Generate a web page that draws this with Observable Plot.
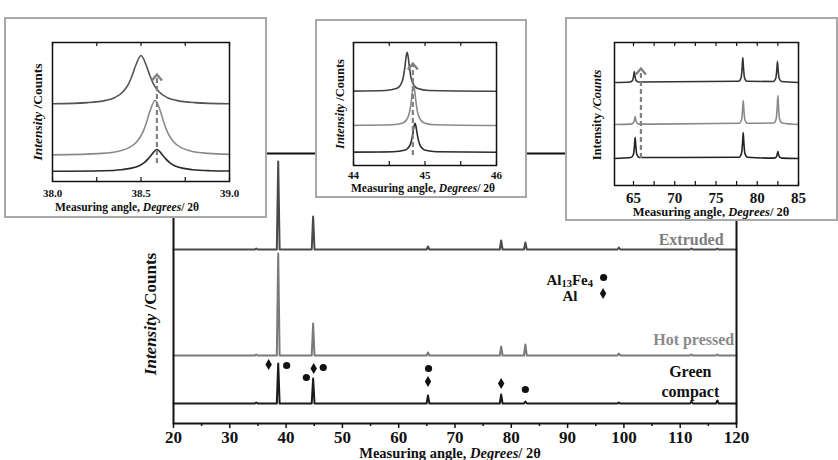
<!DOCTYPE html>
<html><head><meta charset="utf-8">
<script src="https://cdn.jsdelivr.net/npm/d3@7"></script>
<script src="https://cdn.jsdelivr.net/npm/@observablehq/plot@0.6"></script>
<style>
body{margin:0;background:#fff;}
#wrap{position:relative;width:838px;height:460px;overflow:hidden;font-family:"Liberation Serif","Times New Roman",serif;font-weight:bold;color:#111;}
.box{position:absolute;background:#fff;border:2px solid #a8a8a8;box-sizing:border-box;}
.lbl{position:absolute;white-space:nowrap;line-height:1;font-family:"Liberation Serif",serif;font-weight:bold;}
.lbl sub{font-size:0.7em;vertical-align:-0.25em;line-height:0;}
svg{position:absolute;}
svg text{font-family:"Liberation Serif",serif !important;font-weight:bold !important;}
</style></head>
<body><div id="wrap"></div>
<script>
// ---------------- data ----------------
const mainXTicks = [20,30,40,50,60,70,80,90,100,110,120];
const mainXMinor = [25,35,45,55,65,75,85,95,105,115];
// main patterns: [2theta, intensity offset units]
const extruded = [[20,174],[34.45,174],[34.7,175],[34.95,174],[38.35,174],[38.6,262],[38.85,174],[44.55,174],[44.8,207],[45.05,174],[64.95,174],[65.2,177],[65.45,174],[77.95,174],[78.2,183],[78.45,174],[82.25,174],[82.5,181],[82.75,174],[98.85,174],[99.1,176],[99.35,174],[111.75,174],[112,175],[112.25,174],[116.35,174],[116.6,175],[116.85,174],[120,174]];
const hotPressed = [[20,68],[34.45,68],[34.7,69],[34.95,68],[38.35,68],[38.6,170],[38.85,68],[44.55,68],[44.8,100],[45.05,68],[64.95,68],[65.2,71],[65.45,68],[77.95,68],[78.2,77],[78.45,68],[82.25,68],[82.5,79],[82.75,68],[98.85,68],[99.1,70],[99.35,68],[111.75,68],[112,69],[112.25,68],[116.35,68],[116.6,69],[116.85,68],[120,68]];
const greenCompact = [[20,20],[34.45,20],[34.7,21],[34.95,20],[38.35,20],[38.6,60],[38.85,20],[44.55,20],[44.8,45],[45.05,20],[64.95,20],[65.2,28],[65.45,20],[77.95,20],[78.2,29],[78.45,20],[82.25,20],[82.5,22],[82.75,20],[98.85,20],[99.1,21],[99.35,20],[111.75,20],[112,22],[112.25,20],[116.35,20],[116.6,23],[116.85,20],[120,20]];
const al13fe4Marks = [[40.1,58],[43.6,46],[46.6,56],[65.3,55],[82.5,34]];
const alMarks = [[36.9,59],[44.9,55],[65.2,42],[78.2,40]];
const legendCircle = [[96.4,146]];
const legendDiamond = [[96.3,130]];
const endLabels = [
  {x:117.7,y:184,text:"Extruded",fill:"#7d7d7d"},
  {x:119.6,y:84,text:"Hot pressed",fill:"#8a8a8a"}
];
const midLabels = [
  {x:111.8,y:52,text:"Green"},
  {x:111.8,y:32,text:"compact"}
];
// inset 1 (38-39)
const in1Ticks = [38,38.25,38.5,38.75,39];
const in1Labels = [38,38.5,39];
const in1Top = [[38.0,77.7],[38.2,78.9],[38.3,81.1],[38.35,83.8],[38.4,90],[38.43,97.6],[38.45,106],[38.47,116],[38.5,126],[38.53,116],[38.55,106],[38.57,97.6],[38.6,90],[38.65,83.8],[38.7,81.1],[38.8,78.9],[39.0,77.7]];
const in1Mid = [[38.0,26.6],[38.28,28.1],[38.38,30.6],[38.43,33.6],[38.48,40.6],[38.51,49.1],[38.53,58.5],[38.55,70],[38.58,81],[38.61,70],[38.63,58.5],[38.65,49.1],[38.68,40.6],[38.73,33.6],[38.78,30.6],[38.88,28.1],[39.0,27.1]];
const in1Bot = [[38.0,10.3],[38.29,10.8],[38.39,11.8],[38.44,13.1],[38.49,15.8],[38.52,19.2],[38.54,22.6],[38.56,26.8],[38.59,32],[38.62,26.8],[38.64,22.6],[38.66,19.2],[38.69,15.8],[38.74,13.1],[38.79,11.8],[38.89,10.8],[39.0,10.5]];
const in1Arrow = [[38.59,18,107]];
// inset 2 (44-46)
const in2Ticks = [44,44.5,45,45.5,46];
const in2Labels = [44,45,46];
const in2Top = [[44,74.4],[44.45,75],[44.6,76.9],[44.65,79.7],[44.68,83.9],[44.7,89.5],[44.72,99.3],[44.735,108.5],[44.75,113.3],[44.765,108.5],[44.78,99.3],[44.8,89.5],[44.82,83.9],[44.85,79.7],[44.9,76.9],[45.05,75],[46,74.3]];
const in2Mid = [[44,40.1],[44.54,40.7],[44.69,42.6],[44.74,45.5],[44.77,49.8],[44.79,55.6],[44.81,65.6],[44.825,75.1],[44.84,80],[44.855,75.1],[44.87,65.6],[44.89,55.6],[44.91,49.8],[44.94,45.5],[44.99,42.6],[45.14,40.7],[46,40]];
const in2Bot = [[44,13.4],[44.56,13.8],[44.71,15.2],[44.76,17.3],[44.79,20.4],[44.81,24.6],[44.83,31.9],[44.845,38.7],[44.86,42.3],[44.875,38.7],[44.89,31.9],[44.91,24.6],[44.93,20.4],[44.96,17.3],[45.01,15.2],[45.16,13.8],[46,13.3]];
const in2Arrow = [[44.83,10,102]];
// inset 3 (62.7-85)
const in3Ticks = [65,67.5,70,72.5,75,77.5,80,82.5,85];
const in3Labels = [65,70,75,80,85];
const in3Top = [[62.7,103],[64.6,103.5],[64.9,105.2],[65.02,109.6],[65.1,114],[65.18,109.6],[65.3,105.2],[65.6,103.5],[77.75,104.2],[78.05,108],[78.17,118],[78.25,128],[78.33,118],[78.45,108],[78.75,104.2],[81.95,104],[82.25,107.2],[82.37,115.6],[82.45,124],[82.53,115.6],[82.65,107.2],[82.95,104],[85,103]];
const in3Mid = [[62.7,61],[64.7,61.4],[65.0,62.6],[65.12,65.8],[65.2,69],[65.28,65.8],[65.4,62.6],[65.7,61.4],[77.8,62.2],[78.1,65.8],[78.22,75.4],[78.3,85],[78.38,75.4],[78.5,65.8],[78.8,62.2],[82.0,62.5],[82.3,66.8],[82.42,78.4],[82.5,90],[82.58,78.4],[82.7,66.8],[83.0,62.5],[85,61]];
const in3Bot = [[62.7,27],[64.7,28],[65.0,31.2],[65.12,39.6],[65.2,48],[65.28,39.6],[65.4,31.2],[65.7,28],[77.8,28.3],[78.1,32.2],[78.22,42.6],[78.3,53],[78.38,42.6],[78.5,32.2],[78.8,28.3],[82.0,27.4],[82.3,28.4],[82.42,31.2],[82.5,34],[82.58,31.2],[82.7,28.4],[83.0,27.4],[85,27]];
const in3Arrow = [[65.9,27,117]];

// ---------------- drawing ----------------
const wrap = document.getElementById("wrap");
const FONT = '"Liberation Serif", serif';
const tallDiamond = {draw(ctx){ctx.moveTo(0,-5.5);ctx.lineTo(3.2,0);ctx.lineTo(0,5.5);ctx.lineTo(-3.2,0);ctx.closePath();}};
const chevron = {draw(ctx){ctx.moveTo(-5,6);ctx.lineTo(0,0);ctx.lineTo(5,6);}};

function place(el, l, t){el.style.left=l+"px";el.style.top=t+"px";wrap.appendChild(el);}
function label(html, x, y, size, anchor="middle", rotate=false){
  const d=document.createElement("div");d.className="lbl";d.innerHTML=html;d.style.fontSize=size+"px";
  const tx = anchor==="end"?"-100%":anchor==="start"?"0":"-50%";
  d.style.transform=`translate(${tx},-50%)`+(rotate?" rotate(-90deg)":"");
  place(d,x,y);
}

// main chart
const main = Plot.plot({
  width:838,height:460,marginLeft:173,marginRight:102,marginTop:153,marginBottom:37,
  x:{domain:[20,120]},y:{domain:[0,270],axis:null},
  style:{fontFamily:FONT,fontWeight:"bold",background:"transparent",color:"#111"},
  marks:[
    Plot.line(extruded,{x:d=>d[0],y:d=>d[1],stroke:"#4a4a4a",strokeWidth:2}),
    Plot.line(hotPressed,{x:d=>d[0],y:d=>d[1],stroke:"#7a7a7a",strokeWidth:2}),
    Plot.line(greenCompact,{x:d=>d[0],y:d=>d[1],stroke:"#1a1a1a",strokeWidth:2}),
    Plot.dot(al13fe4Marks.concat(legendCircle),{x:d=>d[0],y:d=>d[1],r:3.6,fill:"#111",stroke:null}),
    Plot.dot(alMarks.concat(legendDiamond),{x:d=>d[0],y:d=>d[1],symbol:tallDiamond,r:3,fill:"#111",stroke:null}),
    Plot.text(endLabels,{x:"x",y:"y",text:"text",fill:"fill",textAnchor:"end",fontSize:16,fontWeight:"bold",fontFamily:FONT}),
    Plot.text(midLabels,{x:"x",y:"y",text:"text",fill:"#111",textAnchor:"middle",fontSize:16,fontWeight:"bold",fontFamily:FONT}),
    Plot.axisX({ticks:mainXTicks,tickSize:5,tickPadding:2,fontSize:17,fontFamily:FONT,label:null,strokeWidth:1.5}),
    Plot.axisX({ticks:mainXMinor,tickSize:3,tickFormat:()=>"",label:null,strokeWidth:1.5}),
    Plot.frame({stroke:"#111",strokeWidth:2})
  ]
});
place(main,0,0);
label('<i>Intensity</i> /Counts',150,314,17,"middle",true);
label('Measuring angle, <i>Degrees</i>/ 2θ',450,453,14.5);
label('Al<sub>13</sub>Fe<sub>4</sub>',593,280,15,"end");
label('Al',570,296,15);

function inset(o){
  const [l,t,r,b]=o.box,[fl,ft,fr,fb]=o.frame,H=fb-ft;
  const box=document.createElement("div");box.className="box";box.style.width=(r-l)+"px";box.style.height=(b-t)+"px";place(box,l,t);
  const [ax,ay1,ay2]=o.arrow[0];
  const svg=Plot.plot({
    width:r-l,height:b-t,marginLeft:fl-l,marginRight:r-fr,marginTop:ft-t,marginBottom:b-fb,
    x:{domain:o.domain},y:{domain:[0,H],axis:null},
    style:{fontFamily:FONT,fontWeight:"bold",background:"transparent",color:"#111"},
    marks:[
      Plot.line(o.curves[0],{x:d=>d[0],y:d=>d[1],stroke:o.colors[0],strokeWidth:1.6,curve:"monotone-x"}),
      Plot.line(o.curves[1],{x:d=>d[0],y:d=>d[1],stroke:o.colors[1],strokeWidth:1.6,curve:"monotone-x"}),
      Plot.line(o.curves[2],{x:d=>d[0],y:d=>d[1],stroke:o.colors[2],strokeWidth:1.6,curve:"monotone-x"}),
      Plot.ruleX([ax],{y1:ay1,y2:ay2-1,stroke:"#808080",strokeWidth:2.2,strokeDasharray:"5,3"}),
      Plot.dot(o.arrow,{x:d=>d[0],y:d=>d[2],symbol:chevron,r:4,fill:"none",stroke:"#808080",strokeWidth:2.4}),
      Plot.ruleX(o.ticks,{y1:0,y2:4,stroke:"#111",strokeWidth:1.2}),
      Plot.ruleX(o.ticks,{y1:H-4,y2:H,stroke:"#111",strokeWidth:1.2}),
      Plot.axisX({ticks:o.labels,tickSize:0,tickPadding:o.pad,fontSize:o.tickFont,fontFamily:FONT,tickFormat:o.fmt,label:null}),
      Plot.frame({stroke:"#111",strokeWidth:1.5})
    ]
  });
  place(svg,l,t);
  label(o.ylab,o.ylabPos[0],o.ylabPos[1],o.ylabSize,"middle",true);
  label('Measuring angle, <i>Degrees</i>/ 2θ',o.titlePos[0],o.titlePos[1],o.titleSize);
}

inset({box:[4,17,267,218],frame:[52,42,229,181],domain:[38,39],ticks:in1Ticks,labels:in1Labels,fmt:d3.format(".1f"),pad:8,tickFont:11,
  curves:[in1Top,in1Mid,in1Bot],colors:["#555","#8a8a8a","#2a2a2a"],arrow:in1Arrow,
  ylab:'<i>Intensity</i> /Counts',ylabPos:[38,112],ylabSize:13.5,titlePos:[127,208],titleSize:11.5});
inset({box:[315,19,527,198],frame:[353,42,496,165],domain:[44,46],ticks:in2Ticks,labels:in2Labels,fmt:d3.format("d"),pad:6,tickFont:11,
  curves:[in2Top,in2Mid,in2Bot],colors:["#444","#8a8a8a","#2a2a2a"],arrow:in2Arrow,
  ylab:'<i>Intensity</i> /Counts',ylabPos:[340,104],ylabSize:12.5,titlePos:[423,189],titleSize:11.5});
inset({box:[565,17,838,221],frame:[614,42,798,185],domain:[62.7,85],ticks:in3Ticks,labels:in3Labels,fmt:d3.format("d"),pad:7,tickFont:15,
  curves:[in3Top,in3Mid,in3Bot],colors:["#333","#8a8a8a","#222"],arrow:in3Arrow,
  ylab:'Intensity <i>/Counts</i>',ylabPos:[597,115],ylabSize:12.5,titlePos:[711,212],titleSize:12.5});
</script>
</body></html>
